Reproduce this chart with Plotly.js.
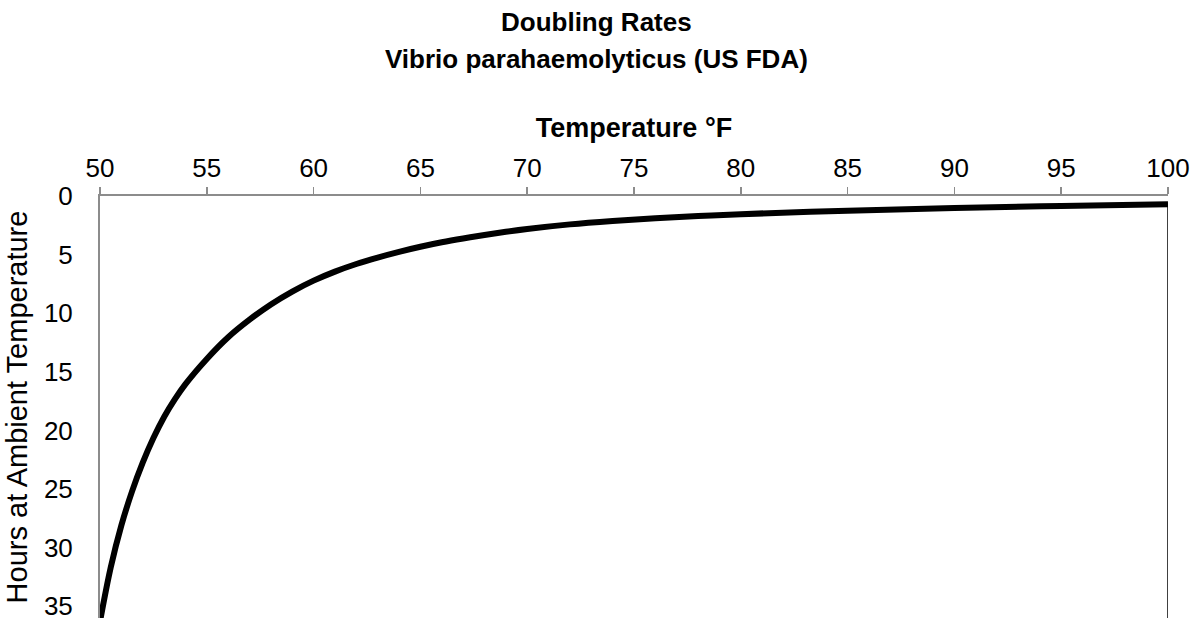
<!DOCTYPE html>
<html>
<head>
<meta charset="utf-8">
<script src="https://cdn.plot.ly/plotly-3.0.1.min.js"></script>
<style>html,body{margin:0;padding:0;background:#fff;}#chart{width:1193px;height:618px;}</style>
</head>
<body>
<div id="chart"></div>
<script>
// Doubling time (hours)
const temperatureF = [50, 50.5, 51, 51.5, 52, 52.5, 53, 53.5, 54, 55, 56, 57, 58, 59, 60, 61, 62, 63, 64, 65, 66, 67, 68, 69, 70, 72, 74, 76, 78, 80, 85, 90, 95, 100];
const hoursToDouble = [36.3, 31.7, 28.1, 25.2, 22.75, 20.65, 18.85, 17.35, 16.05, 13.9, 12.05, 10.55, 9.25, 8.15, 7.22, 6.45, 5.8, 5.25, 4.76, 4.33, 3.95, 3.62, 3.32, 3.05, 2.81, 2.42, 2.13, 1.9, 1.71, 1.55, 1.25, 1.02, 0.85, 0.7];
// vertical drop line at the right end
const dropX = [100, 100];
const dropY = [0.7, 40];
const xTicks = [50, 55, 60, 65, 70, 75, 80, 85, 90, 95, 100];
const yTicks = [0, 5, 10, 15, 20, 25, 30, 35];
const titleLines = ['Doubling Rates', 'Vibrio parahaemolyticus (US FDA)'];

const font = "Liberation Sans, Arial, sans-serif";

const traces = [
  {x: temperatureF, y: hoursToDouble, mode: 'lines', line: {color: '#000', width: 6, shape: 'spline', smoothing: 1}, hoverinfo: 'x+y'},
  {x: dropX, y: dropY, mode: 'lines', line: {color: '#000', width: 1.5}, hoverinfo: 'skip'}
];

const layout = {
  width: 1193, height: 618,
  paper_bgcolor: '#fff', plot_bgcolor: '#fff',
  showlegend: false,
  margin: {l: 100, r: 25, t: 196, b: 0, pad: 0},
  font: {family: font, color: '#000', size: 26},
  annotations: [
    {text: '<b>' + titleLines[0] + '</b>', xref: 'paper', yref: 'paper', x: 0.5, y: 0, showarrow: false,
     xanchor: 'center', yanchor: 'middle', font: {family: font, size: 26, color: '#000'}},
    {text: '<b>' + titleLines[1] + '</b>', xref: 'paper', yref: 'paper', x: 0.5, y: 0, showarrow: false,
     xanchor: 'center', yanchor: 'middle', font: {family: font, size: 26, color: '#000'}}
  ],
  xaxis: {
    side: 'top', range: [50, 100], tickvals: xTicks, ticktext: xTicks.map(String),
    ticks: 'outside', ticklen: 7, tickwidth: 1.5, tickcolor: '#8c8c8c',
    showline: true, linecolor: '#8c8c8c', linewidth: 2,
    showgrid: false, zeroline: false,
    tickfont: {family: font, size: 26, color: '#000'},
    title: {text: '<b>Temperature °F</b>', font: {family: font, size: 27, color: '#000'}, standoff: 7}
  },
  yaxis: {
    range: [36, 0], tickvals: yTicks, ticktext: yTicks.map(String),
    ticks: '', showline: true, linecolor: '#8c8c8c', linewidth: 2,
    showgrid: false, zeroline: false,
    ticklabelstandoff: 20, ticklabeloverflow: 'allow',
    tickfont: {family: font, size: 26, color: '#000'},
    title: {text: 'Hours at Ambient Temperature', font: {family: font, size: 29, color: '#000'}, standoff: 8}
  }
};

// place the two title lines at fixed pixel heights in the container
const plotH = 618 - 196;
layout.annotations[0].x = (596.5 - 100) / 1068;
layout.annotations[1].x = (596.5 - 100) / 1068;
layout.annotations[0].y = 1 + (196 - 22) / plotH;
layout.annotations[1].y = 1 + (196 - 59) / plotH;

Plotly.newPlot('chart', traces, layout, {displayModeBar: false, staticPlot: true});
</script>
</body>
</html>
